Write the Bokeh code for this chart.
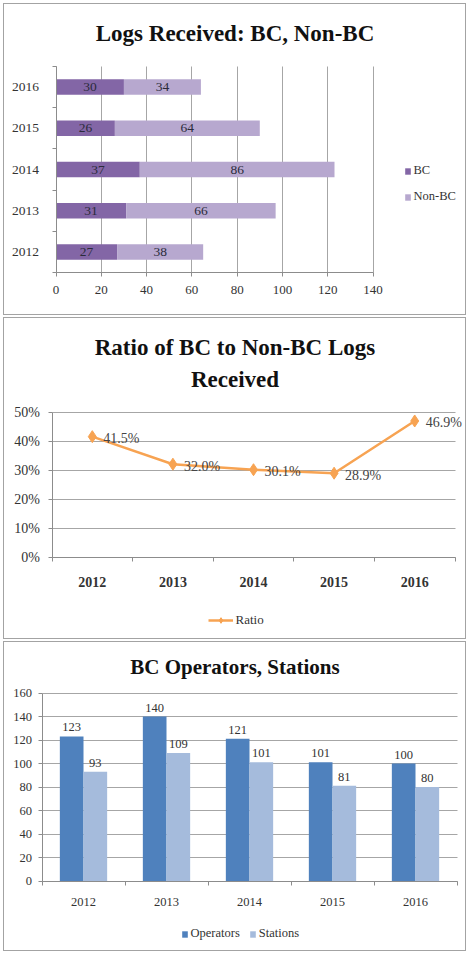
from bokeh.plotting import figure
from bokeh.layouts import column, row
from bokeh.models import (Range1d, Label, Legend, LegendItem, LinearAxis, Grid,
                          ColumnDataSource, PrintfTickFormatter, FixedTicker)
from bokeh.transform import dodge
from bokeh.core.properties import value
from bokeh.embed import file_html
from bokeh.resources import INLINE

# ---------------- data ----------------
years = ["2012", "2013", "2014", "2015", "2016"]
bc_logs = [27, 31, 37, 26, 30]
nonbc_logs = [38, 66, 86, 64, 34]
ratio_pct = [41.5, 32.0, 30.1, 28.9, 46.9]
operators = [123, 140, 121, 101, 100]
stations = [93, 109, 101, 81, 80]
x1_ticks = [0, 20, 40, 60, 80, 100, 120, 140]
pct_ticks = [0, 10, 20, 30, 40, 50]
y3_ticks = [0, 20, 40, 60, 80, 100, 120, 140, 160]

yr = [int(y) for y in years]
cat_lo, cat_hi = yr[0] - 0.5, yr[-1] + 0.5
cat_edges = [y - 0.5 for y in yr] + [cat_hi]

SERIF = "Liberation Serif"
W = 461
AXIS = "#8c8c8c"
GRID = "#a6a6a6"
TXT = "#333333"
BORDER = {"border": "1.5px solid #a3a3a3"}


def span(v0, p0, v1, p1, size):
    """Range whose scale puts value v0 at pixel p0 and v1 at pixel p1."""
    k = (v1 - v0) / (p1 - p0)
    a, b = v0 - p0 * k, v0 + (size - p0) * k
    return Range1d(min(a, b), max(a, b))


def base(height, xr, yr_):
    p = figure(width=W, height=height, x_range=xr, y_range=yr_,
               x_axis_type=None, y_axis_type=None,
               output_backend="svg", toolbar_location=None, min_border=0)
    p.outline_line_color = None
    p.background_fill_color = "white"
    p.border_fill_color = "white"
    return p


def axis(p, side, loc, bounds, ticker, size, standoff, tick_out=4, minor_out=0,
         show_major=True, **kw):
    ax = LinearAxis(fixed_location=loc, bounds=bounds, ticker=ticker,
                    axis_line_color=AXIS, major_tick_in=0, major_tick_out=tick_out,
                    major_tick_line_color=AXIS if show_major else None,
                    minor_tick_in=0, minor_tick_out=minor_out,
                    minor_tick_line_color=AXIS if minor_out else None,
                    major_label_text_font=SERIF, major_label_text_font_size=size,
                    major_label_text_color=TXT, major_label_standoff=standoff, **kw)
    p.add_layout(ax, side)
    return ax


def grid(p, dim, ticks, cross):
    p.add_layout(Grid(dimension=dim, ticker=FixedTicker(ticks=ticks),
                      cross_bounds=cross, grid_line_color=GRID, grid_line_width=1))


def title(p, text, px, py, height, size):
    p.add_layout(Label(x=px, y=height - py, x_units="screen", y_units="screen",
                       text=text, text_align="center", text_baseline="middle",
                       text_font=SERIF, text_font_style="bold",
                       text_font_size=size, text_color="#111111"))


def legend(p, items, px, py_bottom, height, **kw):
    lg = Legend(items=items, location=(px, height - py_bottom),
                padding=0, margin=0, border_line_color=None,
                background_fill_alpha=0, label_text_font=SERIF,
                label_text_color=TXT, **kw)
    p.add_layout(lg, "center")


# ---------------- chart 1: stacked horizontal bars ----------------
H1 = 310
p1 = base(H1, span(0, 51.5, 140, 368.5, W), span(yr[0], 247.5, yr[-1], 82.5, H1))
src1 = ColumnDataSource(dict(
    year=yr, bc=bc_logs, nonbc=nonbc_logs,
    bc_mid=[b / 2 for b in bc_logs],
    nb_mid=[b + n / 2 for b, n in zip(bc_logs, nonbc_logs)],
    bc_lbl=[str(b) for b in bc_logs], nb_lbl=[str(n) for n in nonbc_logs]))
grid(p1, 0, x1_ticks, (cat_lo, cat_hi))
rs = p1.hbar_stack(["bc", "nonbc"], y="year", height=0.38,
                   color=["#8366a6", "#b7a8cf"], source=src1, line_color=None)
for col, lbl in (("bc_mid", "bc_lbl"), ("nb_mid", "nb_lbl")):
    p1.text(x=col, y="year", text=lbl, source=src1, text_align="center",
            text_baseline="middle", text_font=value(SERIF),
            text_font_size="13.5px", text_color="#2b2b3b")
axis(p1, "below", cat_lo, (x1_ticks[0], x1_ticks[-1]), FixedTicker(ticks=x1_ticks),
     "13px", 9)
axis(p1, "left", 0, (cat_lo, cat_hi), FixedTicker(ticks=yr, minor_ticks=cat_edges),
     "13.5px", 13, tick_out=0, minor_out=4, show_major=False,
     formatter=PrintfTickFormatter(format="%d"))
legend(p1, [LegendItem(label="BC", renderers=[rs[0]]),
            LegendItem(label="Non-BC", renderers=[rs[1]])],
       399.5, 200, H1, orientation="vertical", spacing=11,
       glyph_width=7, glyph_height=8, label_height=15, label_standoff=3,
       label_text_font_size="12.5px")
title(p1, "Logs Received: BC, Non-BC", 230.5, 28.5, H1, "23px")

# ---------------- chart 2: ratio line ----------------
H2 = 320
p2 = base(H2, span(yr[0], 87.8, yr[-1], 410.2, W), span(0, 238.5, 50, 93.5, H2))
src2 = ColumnDataSource(dict(year=yr, ratio=ratio_pct,
                             lbl=["%.1f%%" % r for r in ratio_pct]))
ORANGE = "#f7a352"
grid(p2, 1, pct_ticks, (cat_lo, cat_hi))
ln = p2.line(x="year", y="ratio", source=src2, line_color=ORANGE, line_width=2.5)
mk = p2.scatter(x="year", y="ratio", source=src2, marker="diamond", size=12,
                fill_color=ORANGE, line_color=ORANGE)
p2.text(x="year", y="ratio", text="lbl", source=src2, x_offset=11, y_offset=2,
        text_align="left", text_baseline="middle", text_font=value(SERIF),
        text_font_size="14px", text_color="#444444")
axis(p2, "left", cat_lo, (pct_ticks[0], pct_ticks[-1]), FixedTicker(ticks=pct_ticks),
     "14px", 8, formatter=PrintfTickFormatter(format="%d%%"))
axis(p2, "below", 0, (cat_lo, cat_hi), FixedTicker(ticks=yr, minor_ticks=cat_edges),
     "14px", 16, tick_out=0, minor_out=4, show_major=False,
     formatter=PrintfTickFormatter(format="%d"),
     major_label_text_font_style="bold")
legend(p2, [LegendItem(label="Ratio", renderers=[ln, mk])],
       203.5, 310, H2, orientation="horizontal",
       glyph_width=25, glyph_height=14, label_height=15, label_standoff=3,
       label_text_font_size="13px")
title(p2, "Ratio of BC to Non-BC Logs", 230.5, 28.5, H2, "23px")
title(p2, "Received", 230.5, 60.5, H2, "23px")

# ---------------- chart 3: grouped bars ----------------
H3 = 308
p3 = base(H3, span(yr[0], 79.0, yr[-1], 411.0, W), span(0, 238.5, 160, 50.5, H3))
src3 = ColumnDataSource(dict(year=yr, ops=operators, sta=stations,
                             ops_lbl=[str(v) for v in operators],
                             sta_lbl=[str(v) for v in stations]))
BLUE = "#4f81bd"
LBLUE = "#a5bbdc"
grid(p3, 1, y3_ticks, (cat_lo, cat_hi))
r_ops = p3.vbar(x=dodge("year", -0.1425), top="ops", width=0.285,
                source=src3, color=BLUE, line_color=None)
r_sta = p3.vbar(x=dodge("year", 0.1425), top="sta", width=0.285,
                source=src3, color=LBLUE, line_color=None)
for off, col, lbl in ((-0.1425, "ops", "ops_lbl"), (0.1425, "sta", "sta_lbl")):
    p3.text(x=dodge("year", off), y=col, text=lbl, source=src3,
            y_offset=-5, text_align="center", text_baseline="bottom",
            text_font=value(SERIF), text_font_size="12.5px", text_color=TXT)
axis(p3, "left", cat_lo, (y3_ticks[0], y3_ticks[-1]), FixedTicker(ticks=y3_ticks),
     "12.5px", 6)
axis(p3, "below", 0, (cat_lo, cat_hi), FixedTicker(ticks=yr, minor_ticks=cat_edges),
     "12.5px", 13, tick_out=0, minor_out=4, show_major=False,
     formatter=PrintfTickFormatter(format="%d"))
legend(p3, [LegendItem(label="Operators", renderers=[r_ops]),
            LegendItem(label="Stations", renderers=[r_sta])],
       176.5, 299, H3, orientation="horizontal", spacing=9,
       glyph_width=7, glyph_height=8, label_height=15, label_standoff=3,
       label_text_font_size="12.5px")
title(p3, "BC Operators, Stations", 230.5, 24.5, H3, "21px")

layout = column(row(p1, styles=BORDER), row(p2, styles=BORDER),
                row(p3, styles=BORDER), spacing=2, margin=(3, 0, 0, 3))
open("out.html", "w").write(file_html(layout, INLINE))
